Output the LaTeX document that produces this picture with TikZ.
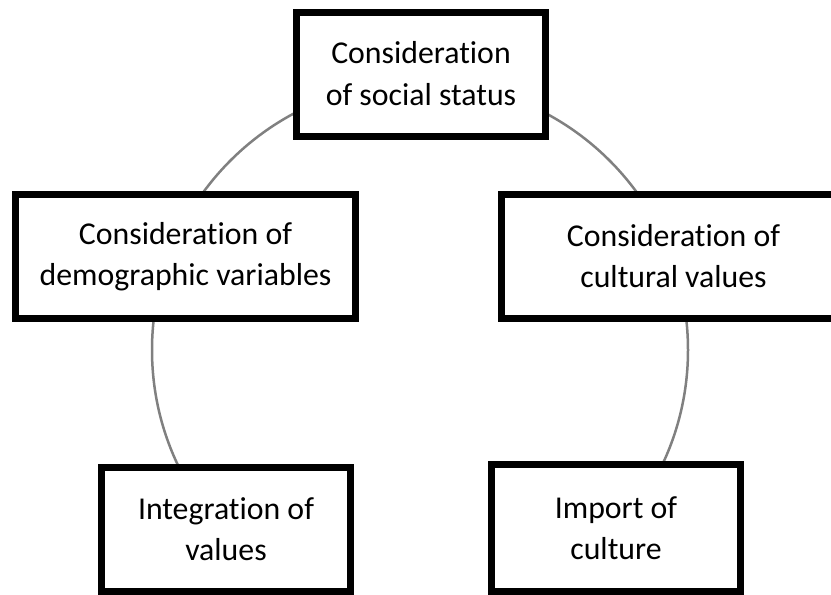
\documentclass[tikz,border=0pt]{standalone}
\usepackage{fontspec}
\setmainfont[Ligatures=NoCommon]{Carlito}
\usepackage{xcolor}
\usepackage{tikz}

\begin{document}
\begin{tikzpicture}[x=1pt,y=-1pt,
    box/.style={draw,line width=7pt,fill=white,align=center,inner sep=0pt,
      minimum width=249pt,minimum height=124pt,
      font=\fontsize{31.8}{41}\selectfont}]
                \def\r{268} % radius of the ring
                \useasboundingbox (0,0) rectangle (831,595);
                \clip (0,0) rectangle (831,595);
                % Draw the ring behind the boxes
                \coordinate (O) at (420,350);
                \draw[gray,line width=2.5pt] (O) circle (\r);
                % Boxes placed on the ring
                \node[box,font=\fontsize{31.8}{42}\selectfont] (status) at (421,74) {Consideration\\of social status};
                \node[box,minimum width=340pt] (demo) at (185.5,256.5) {Consideration of\\demographic variables};
                \node[box,minimum width=344pt] (cult) at (673.5,256.5) {Consideration of\\cultural values};
                \node[box] (integr) at (226,529.5) {Integration of\\values};
                \node[box,minimum height=127pt] (import) at (616,528) {Import of\\culture};
            \end{tikzpicture}
\end{document}
